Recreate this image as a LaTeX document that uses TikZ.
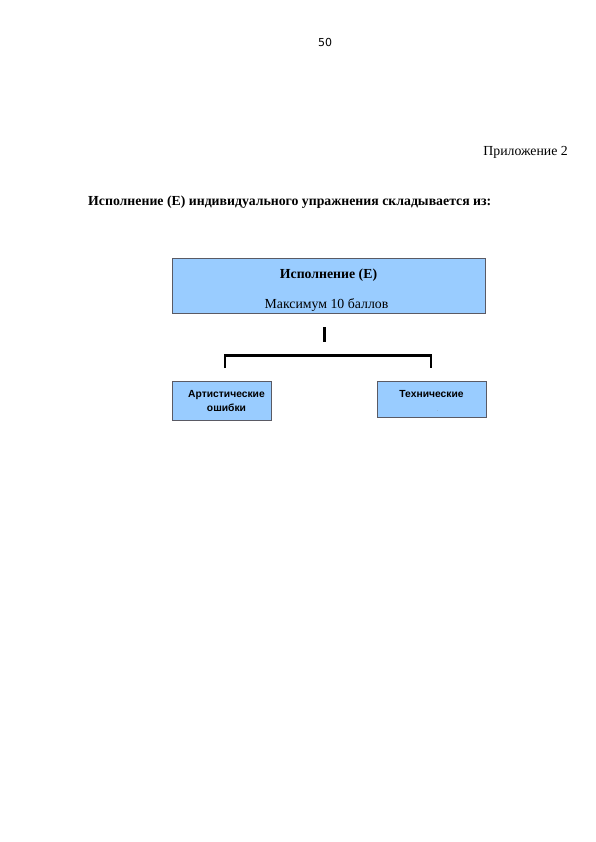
\documentclass[tikz,border=0pt]{standalone}
\usepackage{fontspec}
\setmainfont{Liberation Serif}
\setsansfont{Liberation Sans}
\newfontfamily\numfont{DejaVu Sans}
\definecolor{boxblue}{RGB}{153,204,255}
\definecolor{boxedge}{RGB}{90,90,100}
\tikzset{
  bluebox/.style={draw=boxedge, line width=0.7pt, fill=boxblue},
  conn/.style={line width=2.4pt, black},
  txt/.style={inner sep=0pt, anchor=base},
}
\begin{document}
\begin{tikzpicture}[x=1pt,y=-1pt]
\useasboundingbox (0,0) rectangle (595,842);
\node[txt, font=\numfont\fontsize{11}{12}\selectfont] (pnum) at (325,47) {50};
\node[txt, anchor=base east, font=\fontsize{13.8}{15}\selectfont] (app) at (568,156) {Приложение 2};
\node[txt, anchor=base west, font=\bfseries\fontsize{13.8}{15}\selectfont] (head) at (88,206) {Исполнение (E) индивидуального упражнения складывается из:};
% top box
\draw[bluebox] (172,258) rectangle (485,313);
\node[txt, font=\bfseries\fontsize{13.8}{15}\selectfont] (t1) at (328.5,278) {Исполнение (E)};
\node[txt, font=\fontsize{13.8}{15}\selectfont] (t2) at (326.5,308) {Максимум 10 баллов};
% connectors
\coordinate (v1) at (324.5,327);
\coordinate (v2) at (324.5,342);
\draw[conn] (v1) -- (v2);
\coordinate (hl) at (225,368);
\coordinate (hlt) at (225,355.5);
\coordinate (hrt) at (431,355.5);
\coordinate (hr) at (431,368);
\draw[conn] (hl) -- (hlt) -- (hrt) -- (hr);
% bottom boxes
\draw[bluebox] (172,381) rectangle (271,420);
\node[txt, font=\sffamily\bfseries\fontsize{10.3}{12}\selectfont] (a1) at (226.5,397) {Артистические};
\node[txt, font=\sffamily\bfseries\fontsize{10.3}{12}\selectfont] (a2) at (226.5,411) {ошибки};
\draw[bluebox] (377,381) rectangle (486,417);
\node[txt, font=\sffamily\bfseries\fontsize{10.3}{12}\selectfont] (b) at (431.5,397) {Технические};
\node[txt, font=\sffamily\fontsize{5}{5}\selectfont, text=gray] (bdot) at (437.5,411) {.};
\end{tikzpicture}
\end{document}
